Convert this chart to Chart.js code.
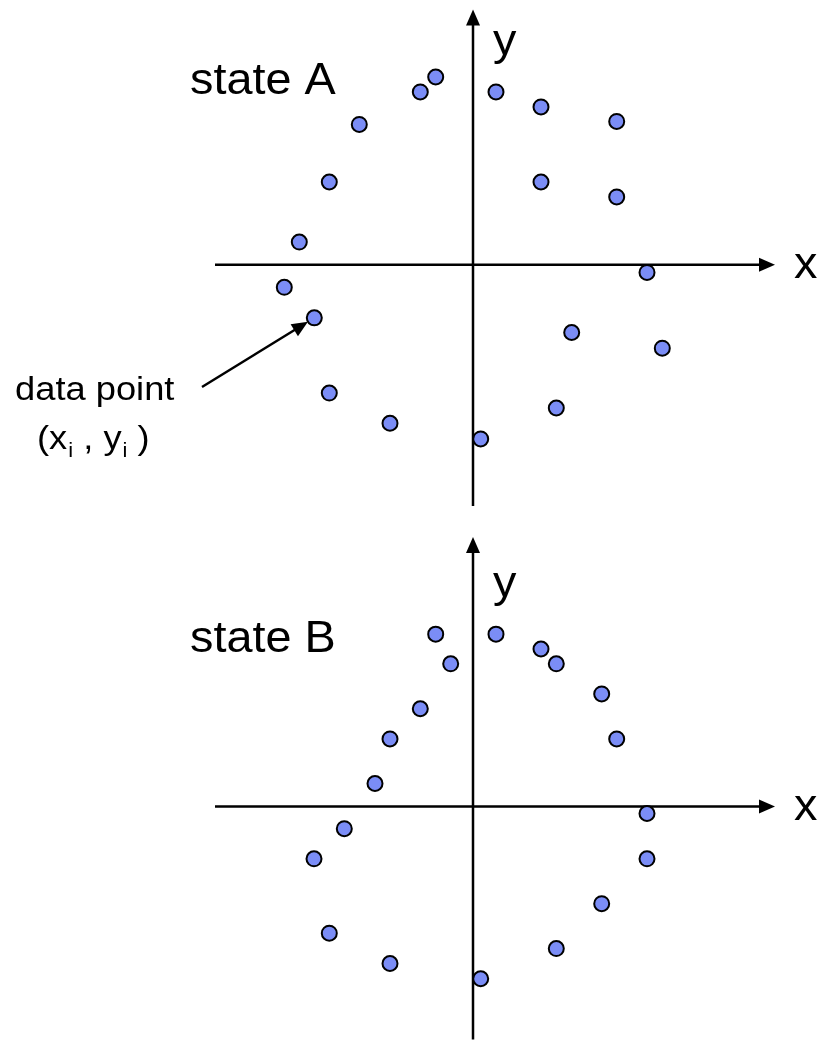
<!DOCTYPE html>
<html>
<head>
<meta charset="utf-8">
<script src="https://cdn.jsdelivr.net/npm/chart.js@4/dist/chart.umd.min.js"></script>
<style>
html, body { margin: 0; padding: 0; background: #fff; }
#wrap { position: relative; width: 821px; height: 1049px; }
canvas { position: absolute; left: 0; }
</style>
</head>
<body>
<div id="wrap">
  <canvas id="stateA" width="821" height="525" style="top:0px"></canvas>
  <canvas id="stateB" width="821" height="524" style="top:525px"></canvas>
</div>
<script>
// point coordinates, origin at the axes crossing
const stateAX = [-3.73, -5.27, 2.3, 6.8, 14.37, -11.37, -14.37, 6.8, 14.37, -17.37, 17.4, -18.87, -15.87, 9.87, 18.93, -14.37, 8.33, -8.3, 0.77];
const stateAY = [18.83, 17.33, 17.33, 15.83, 14.37, 14.07, 8.3, 8.3, 6.8, 2.27, -0.77, -2.27, -5.33, -6.8, -8.37, -12.87, -14.37, -15.9, -17.47];

const stateBX = [-3.73, 2.3, 6.8, 8.33, -2.23, 12.87, -5.27, -8.3, 14.37, -9.8, 17.4, -12.87, -15.9, 17.4, 12.87, -14.37, 8.33, -8.3, 0.77];
const stateBY = [17.4, 17.4, 15.9, 14.4, 14.4, 11.37, 9.87, 6.83, 6.83, 2.33, -0.7, -2.23, -5.27, -5.27, -9.8, -12.77, -14.33, -15.83, -17.37];

const POINT_FILL = '#7b8df6';
const FONT = '"Liberation Sans", Arial, sans-serif';

// draw a filled arrow head with its tip at (x, y)
function arrowHead(ctx, x, y, angle, len, half) {
    ctx.save();
    ctx.translate(x, y);
    ctx.rotate(angle);
    ctx.beginPath();
    ctx.moveTo(0, 0);
    ctx.lineTo(-len, -half);
    ctx.lineTo(-len, half);
    ctx.closePath();
    ctx.fill();
    ctx.restore();
}

// text a bit wider than the font, as in the picture
function stretchText(ctx, text, x, y, size, sx) {
    ctx.save();
    ctx.translate(x, y);
    ctx.scale(sx, 1);
    ctx.font = size + 'px ' + FONT;
    ctx.fillText(text, 0, 0);
    const w = ctx.measureText(text).width * sx;
    ctx.restore();
    return w;
}

const axesArrows = {
    id: 'axesArrows',
    beforeDatasetsDraw(chart) {
        const { ctx, chartArea, scales } = chart;
        const ox = scales.x.getPixelForValue(0);
        const oy = scales.y.getPixelForValue(0);
        ctx.save();
        ctx.strokeStyle = '#000';
        ctx.fillStyle = '#000';
        ctx.lineWidth = 2.5;
        ctx.beginPath();
        ctx.moveTo(chartArea.left, oy);
        ctx.lineTo(chartArea.right - 10, oy);
        ctx.moveTo(ox, chartArea.bottom);
        ctx.lineTo(ox, chartArea.top + 10);
        ctx.stroke();
        arrowHead(ctx, chartArea.right, oy, 0, 16, 7);
        arrowHead(ctx, ox, chartArea.top, -Math.PI / 2, 16, 7);
        ctx.restore();
    },
    afterDraw(chart, args, opts) {
        const { ctx, chartArea, scales } = chart;
        const ox = scales.x.getPixelForValue(0);
        const oy = scales.y.getPixelForValue(0);
        ctx.save();
        ctx.fillStyle = '#000';
        ctx.textBaseline = 'alphabetic';
        stretchText(ctx, opts.title, opts.titleX, opts.titleY, 45, 1.04);
        stretchText(ctx, 'y', ox + 20, oy - 210, 45, 1.04);
        stretchText(ctx, 'x', chartArea.right + 19, oy + 13, 45, 1.04);

        if (opts.pointer != null) {
            // "data point" callout with an arrow to one of the points
            stretchText(ctx, 'data point', 15, 400, 33, 1.1);
            let cx = 37;
            cx += stretchText(ctx, '(x', cx, 449, 33, 1.1);
            cx += stretchText(ctx, 'i', cx + 1, 457, 20, 1.1) + 1;
            cx += stretchText(ctx, ' , y', cx, 449, 33, 1.1);
            cx += stretchText(ctx, 'i', cx + 1, 457, 20, 1.1) + 1;
            stretchText(ctx, ' )', cx, 449, 33, 1.1);

            const px = scales.x.getPixelForValue(stateAX[opts.pointer]);
            const py = scales.y.getPixelForValue(stateAY[opts.pointer]);
            const sx = 202, sy = 387;
            const ang = Math.atan2(py - sy, px - sx);
            const tx = px - Math.cos(ang) * 7.5, ty = py - Math.sin(ang) * 7.5;
            ctx.strokeStyle = '#000';
            ctx.lineWidth = 2.5;
            ctx.beginPath();
            ctx.moveTo(sx, sy);
            ctx.lineTo(tx - Math.cos(ang) * 10, ty - Math.sin(ang) * 10);
            ctx.stroke();
            arrowHead(ctx, tx, ty, ang, 16, 7);
        }
        ctx.restore();
    }
};

function buildConfig(xs, ys, range, labelOpts) {
    return {
        type: 'scatter',
        data: {
            datasets: [{
                data: xs.map((x, i) => ({ x: x, y: ys[i] })),
                pointRadius: 7.5,
                pointHoverRadius: 7.5,
                pointBackgroundColor: POINT_FILL,
                pointBorderColor: '#000',
                pointBorderWidth: 2,
                clip: false
            }]
        },
        options: {
            responsive: false,
            animation: false,
            layout: { padding: range.padding },
            scales: {
                x: { type: 'linear', display: false, min: range.xMin, max: range.xMax },
                y: { type: 'linear', display: false, min: range.yMin, max: range.yMax }
            },
            plugins: {
                legend: { display: false },
                tooltip: { enabled: false },
                axesArrows: labelOpts
            }
        },
        plugins: [axesArrows]
    };
}

new Chart('stateA', buildConfig(stateAX, stateAY,
    { xMin: -25.8, xMax: 30.2, yMin: -24.2, yMax: 25.6, padding: { left: 215, right: 46, top: 8, bottom: 19 } },
    { title: 'state A', titleX: 190, titleY: 94, pointer: 12 }));

new Chart('stateB', buildConfig(stateBX, stateBY,
    { xMin: -25.8, xMax: 30.2, yMin: -23.5, yMax: 27.2, padding: { left: 215, right: 46, top: 12, bottom: 5 } },
    { title: 'state B', titleX: 190, titleY: 127, pointer: null }));
</script>
</body>
</html>
